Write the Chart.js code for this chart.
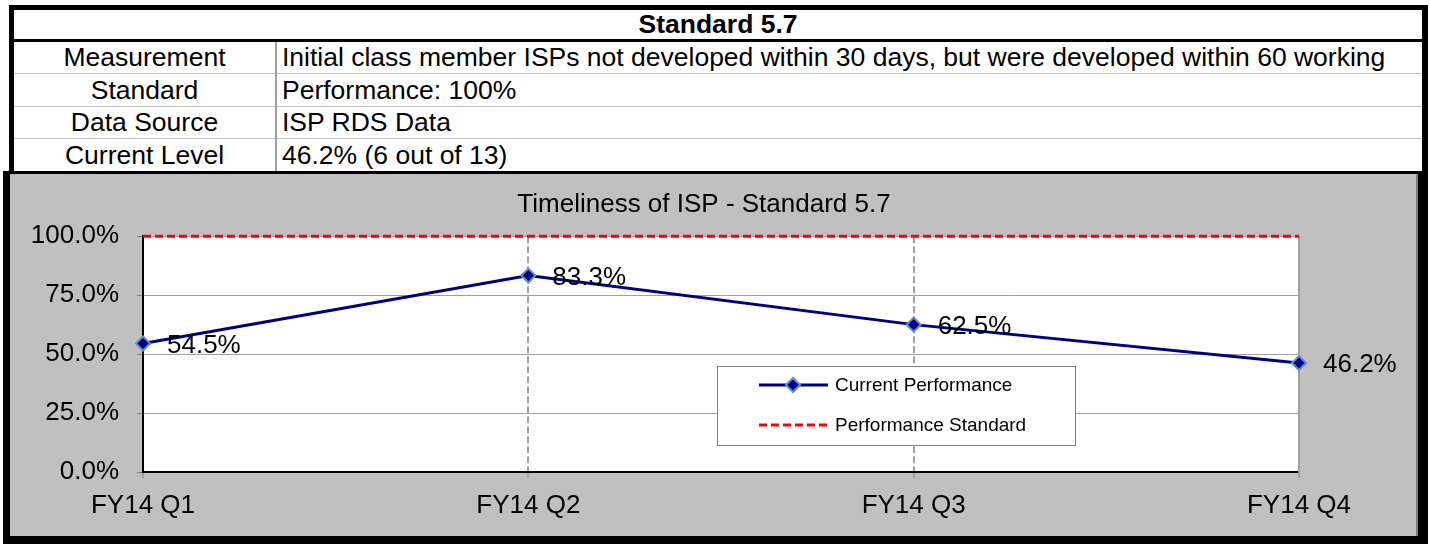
<!DOCTYPE html>
<html>
<head>
<meta charset="utf-8">
<script src="https://cdn.jsdelivr.net/npm/chart.js@4"></script>
<style>
  body { margin: 0; background: #fff; font-family: "Liberation Sans", Arial, sans-serif; }
  .abs { position: absolute; }
  #tableFrame { left: 9px; top: 5px; width: 1419px; height: 169px; background: #000; }
  #tableInner { left: 14px; top: 10px; width: 1408px; height: 161px; background: #fff; }
  .cell { position: absolute; font-size: 26.5px; line-height: 31px; color: #000; white-space: nowrap; }
  .lbl { left: 14px; width: 261px; text-align: center; }
  .val { left: 282px; }
  .hline { position: absolute; left: 14px; width: 1408px; height: 1px; background: #c0c0c0; }
  #chartFrame { left: 3px; top: 171px; width: 1425px; height: 373px; background: #000; }
  #chartInner { left: 10px; top: 174px; width: 1406px; height: 362px; background: #c0c0c0; border-right: 2px solid #808080; }
  #chartBox { position: absolute; left: 0px; top: 174px; width: 1408px; height: 364px; }
</style>
</head>
<body>
<div id="tableFrame" class="abs"></div>
<div id="tableInner" class="abs"></div>
<div class="cell" style="left:14px;width:1408px;top:9px;text-align:center;font-weight:bold;">Standard 5.7</div>
<div class="abs" style="left:14px;top:39px;width:1408px;height:3px;background:#000;"></div>
<div class="hline" style="top:73px;"></div>
<div class="hline" style="top:106px;"></div>
<div class="hline" style="top:138px;"></div>
<div class="abs" style="left:275px;top:42px;width:2px;height:129px;background:#a0a0a0;"></div>
<div class="cell lbl" style="top:42px;">Measurement</div>
<div class="cell val" style="top:42px;">Initial class member ISPs not developed within 30 days, but were developed within 60 working</div>
<div class="cell lbl" style="top:75px;">Standard</div>
<div class="cell val" style="top:75px;">Performance: 100%</div>
<div class="cell lbl" style="top:107px;">Data Source</div>
<div class="cell val" style="top:107px;">ISP RDS Data</div>
<div class="cell lbl" style="top:140px;">Current Level</div>
<div class="cell val" style="top:140px;">46.2% (6 out of 13)</div>

<div id="chartFrame" class="abs"></div>
<div id="chartInner" class="abs"></div>
<div id="chartBox"><canvas id="timelinessChart" width="1408" height="364"></canvas></div>

<script>
// Chart data
const quarters = ['FY14 Q1', 'FY14 Q2', 'FY14 Q3', 'FY14 Q4'];
const currentPerformance = [54.5, 83.3, 62.5, 46.2];
const performanceStandard = [100, 100, 100, 100];
const yMin = 0, yMax = 100, yStep = 25;

const FONT = '"Liberation Sans", Arial, sans-serif';
Chart.defaults.font.family = FONT;
Chart.defaults.color = '#000';

// white plot area
const plotBackground = {
    id: 'plotBackground',
    beforeDraw(chart) {
        const a = chart.chartArea, ctx = chart.ctx;
        ctx.save();
        ctx.fillStyle = '#fff';
        ctx.fillRect(a.left, a.top, a.right - a.left, a.bottom - a.top);
        ctx.restore();
    }
};

// value labels right of each point
const valueLabels = {
    id: 'valueLabels',
    afterDatasetsDraw(chart) {
        const ctx = chart.ctx;
        const meta = chart.getDatasetMeta(0);
        ctx.save();
        ctx.font = '26px ' + FONT;
        ctx.fillStyle = '#000';
        ctx.textAlign = 'left';
        ctx.textBaseline = 'middle';
        meta.data.forEach((pt, i) => {
            ctx.fillText(currentPerformance[i].toFixed(1) + '%', pt.x + 24, pt.y + 2);
        });
        ctx.restore();
    }
};

// boxed legend inside the plot
const boxLegend = {
    id: 'boxLegend',
    afterDraw(chart) {
        const ctx = chart.ctx;
        const x = 717, y = 192, w = 358, h = 79;
        ctx.save();
        ctx.fillStyle = '#fff';
        ctx.fillRect(x, y, w, h);
        ctx.strokeStyle = '#808080';
        ctx.lineWidth = 1;
        ctx.strokeRect(x + 0.5, y + 0.5, w, h);
        chart.data.datasets.forEach((ds, i) => {
            const ly = y + 19 + i * 40;
            ctx.strokeStyle = ds.borderColor;
            ctx.lineWidth = ds.borderWidth;
            ctx.setLineDash(ds.borderDash || []);
            ctx.beginPath();
            ctx.moveTo(x + 42, ly);
            ctx.lineTo(x + 111, ly);
            ctx.stroke();
            ctx.setLineDash([]);
            if (ds.pointRadius > 0) {
                ctx.fillStyle = ds.pointBackgroundColor;
                ctx.strokeStyle = ds.pointBorderColor;
                ctx.lineWidth = ds.pointBorderWidth;
                ctx.beginPath();
                ctx.moveTo(x + 76, ly - ds.pointRadius);
                ctx.lineTo(x + 76 + ds.pointRadius, ly);
                ctx.lineTo(x + 76, ly + ds.pointRadius);
                ctx.lineTo(x + 76 - ds.pointRadius, ly);
                ctx.closePath();
                ctx.fill();
                ctx.stroke();
            }
            ctx.fillStyle = '#000';
            ctx.font = '19px ' + FONT;
            ctx.textAlign = 'left';
            ctx.textBaseline = 'middle';
            ctx.fillText(ds.label, x + 118, ly + 1);
        });
        ctx.restore();
    }
};

const ctx1 = document.getElementById('timelinessChart').getContext('2d');
new Chart(ctx1, {
    type: 'line',
    data: {
        labels: quarters,
        datasets: [{
            label: 'Current Performance',
            data: currentPerformance,
            borderColor: '#000080',
            borderWidth: 3,
            pointStyle: 'rectRot',
            pointRadius: 7,
            pointBackgroundColor: '#000080',
            pointBorderColor: '#5b8fd0',
            pointBorderWidth: 2,
            tension: 0,
            clip: false
        }, {
            label: 'Performance Standard',
            data: performanceStandard,
            borderColor: '#ff0000',
            borderWidth: 3,
            borderDash: [8, 4],
            pointRadius: 0,
            tension: 0,
            clip: false
        }]
    },
    options: {
        responsive: false,
        animation: false,
        events: [],
        layout: { padding: 0 },
        plugins: {
            legend: { display: false },
            tooltip: { enabled: false },
            title: {
                display: true,
                text: 'Timeliness of ISP - Standard 5.7',
                color: '#000',
                font: { size: 26, weight: 'normal', family: FONT },
                padding: { top: 15, bottom: 16 }
            }
        },
        scales: {
            x: {
                type: 'category',
                offset: false,
                grid: {
                    color: (c) => (c.index === 1 || c.index === 2) ? '#a0a0a0' : 'rgba(0,0,0,0)',
                    lineWidth: 2,
                    tickLength: 6,
                    tickColor: '#808080',
                    tickWidth: 1
                },
                border: { color: '#000', width: 2, dash: [7, 3] },
                ticks: { font: { size: 26 }, color: '#000', padding: 12, maxRotation: 0 },
                afterFit: (s) => { s.height = 66; }
            },
            y: {
                min: yMin,
                max: yMax,
                grid: { color: '#a0a0a0', lineWidth: 1, tickLength: 6, tickColor: '#808080' },
                border: { color: '#000', width: 2 },
                ticks: {
                    stepSize: yStep,
                    font: { size: 26 },
                    color: '#000',
                    padding: 18,
                    callback: (v) => v.toFixed(1) + '%'
                },
                afterFit: (s) => { s.width = 143; }
            },
            y2: {
                position: 'right',
                grid: { display: false },
                ticks: { display: false },
                border: { color: '#a0a0a0', width: 2 },
                afterFit: (s) => { s.width = 109; }
            }
        }
    },
    plugins: [plotBackground, valueLabels, boxLegend]
});
</script>
</body>
</html>
